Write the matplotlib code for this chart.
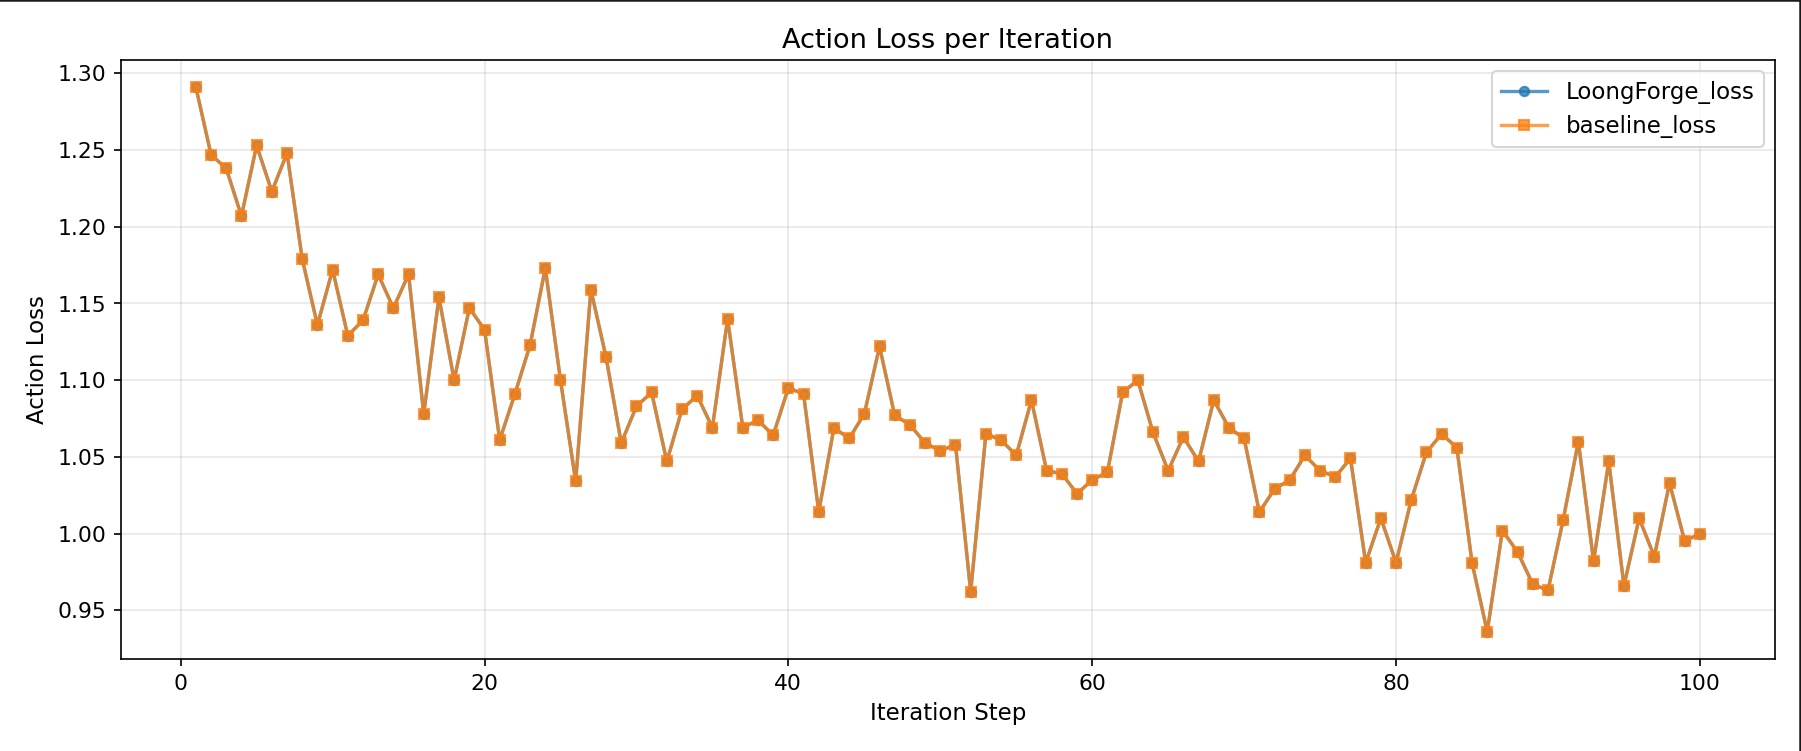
import numpy as np
import matplotlib
matplotlib.use('Agg')
import matplotlib.pyplot as plt
from matplotlib.lines import Line2D

# iteration steps 1..100
steps = list(range(1, 101))

# loss values (both runs overlap almost exactly)
loongforge_loss = [
    1.291, 1.247, 1.238, 1.207, 1.253, 1.223, 1.248, 1.179, 1.136, 1.172,
    1.129, 1.139, 1.169, 1.147, 1.169, 1.078, 1.154, 1.100, 1.147, 1.133,
    1.061, 1.091, 1.123, 1.173, 1.100, 1.034, 1.159, 1.115, 1.059, 1.083,
    1.092, 1.047, 1.081, 1.090, 1.069, 1.140, 1.069, 1.074, 1.064, 1.095,
    1.091, 1.014, 1.069, 1.062, 1.078, 1.122, 1.077, 1.071, 1.059, 1.054,
    1.058, 0.962, 1.065, 1.061, 1.051, 1.087, 1.041, 1.039, 1.026, 1.035,
    1.040, 1.092, 1.100, 1.066, 1.041, 1.063, 1.047, 1.087, 1.069, 1.062,
    1.014, 1.029, 1.035, 1.051, 1.041, 1.037, 1.049, 0.981, 1.010, 0.981,
    1.022, 1.053, 1.065, 1.056, 0.981, 0.936, 1.002, 0.988, 0.967, 0.963,
    1.009, 1.060, 0.982, 1.047, 0.966, 1.010, 0.985, 1.033, 0.995, 1.000,
]
baseline_loss = list(loongforge_loss)

fig = plt.figure(figsize=(12.007, 5.007), dpi=150)
ax = fig.add_axes([0.067, 0.1225, 0.9186, 0.7976])

ax.plot(steps, loongforge_loss, marker='o', markersize=4.5, linewidth=1.6,
        alpha=0.75, label='LoongForge_loss')
ax.plot(steps, baseline_loss, marker='s', markersize=4.5, linewidth=1.6,
        alpha=0.75, label='baseline_loss')

ax.set_title('Action Loss per Iteration', fontsize=13)
ax.set_xlabel('Iteration Step', fontsize=11)
ax.set_ylabel('Action Loss', fontsize=11)
ax.tick_params(labelsize=10.5)
ax.grid(True, alpha=0.3)
ax.legend(loc='upper right', fontsize=11)

# thin dark frame on the top and right edges of the picture
fig.add_artist(Line2D([0, 1], [0.9995, 0.9995], transform=fig.transFigure, color='#1a1a1a', linewidth=1.2))
fig.add_artist(Line2D([0.9995, 0.9995], [0, 1], transform=fig.transFigure, color='#1a1a1a', linewidth=1.2))

fig.savefig('out.png', dpi=150)
